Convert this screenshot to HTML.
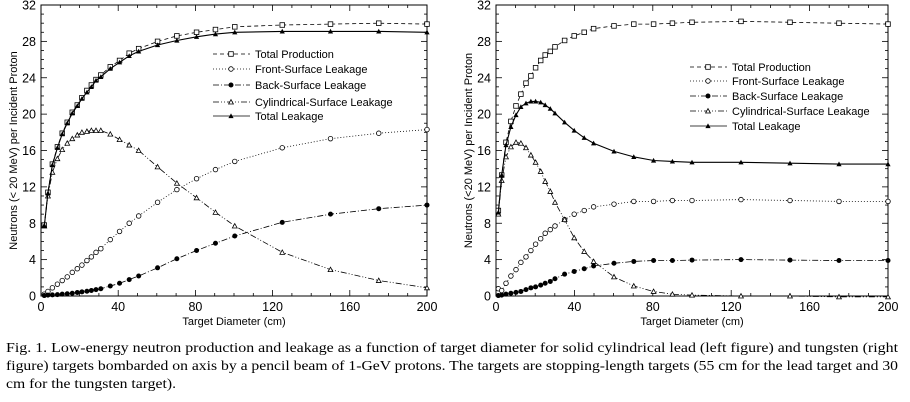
<!DOCTYPE html>
<html><head><meta charset="utf-8"><style>
html,body{margin:0;padding:0;background:#fff;}
svg{display:block;}
</style></head><body>
<svg id="s" width="910" height="402" xmlns="http://www.w3.org/2000/svg" font-family="Liberation Sans, sans-serif"></svg>
<script>
const S=document.getElementById('s');let h='';
const X=[1.7,3.6,5.9,8.5,11,13.6,16.2,18.8,21.2,23.8,26.1,28.5,31,35.9,40.7,45.7,50.6,60.4,70.4,80.6,90.4,100.4,125,150,175,200];
const L={
tp:[7.8,11.4,14.5,16.4,17.9,19.1,20.2,21,21.8,22.6,23.2,23.8,24.3,25.2,25.9,26.7,27.2,28,28.6,29,29.3,29.6,29.8,29.9,30,29.9],
tl:[7.7,11.3,14.4,16.3,17.8,19,20.1,20.9,21.7,22.4,23,23.7,24.1,25,25.7,26.4,26.9,27.6,28.1,28.5,28.8,29,29.1,29.1,29.1,29.0],
cy:[7.7,11,13.6,15.1,16.1,16.8,17.3,17.7,18,18.1,18.2,18.2,18.2,17.8,17.2,16.6,16,14.2,12.4,10.8,9.2,7.7,4.8,2.9,1.7,0.9],
fr:[0.2,0.5,0.9,1.3,1.7,2.1,2.6,3,3.4,3.9,4.3,4.8,5.2,6.2,7.1,8,8.8,10.3,11.7,12.9,13.9,14.8,16.3,17.3,17.9,18.3],
bk:[0.05,0.1,0.12,0.15,0.2,0.25,0.3,0.38,0.45,0.52,0.6,0.7,0.8,1.1,1.4,1.8,2.2,3.1,4.1,5,5.8,6.6,8.1,9,9.6,10]};
const XR=[1.2,2.9,5.1,7.6,10.2,12.7,15.3,17.8,20.2,22.8,25.1,27.7,30.1,35,39.9,45,49.8,60.2,70.3,80.4,90,100,125,150,175,200];
const R={
tp:[9.4,13.3,16.9,19.2,20.9,22.2,23.4,24.2,25.1,25.9,26.5,26.9,27.4,28.1,28.6,29,29.4,29.7,29.9,29.9,30,30.1,30.2,30.1,30,29.9],
tl:[9.2,13.3,16.6,18.6,19.9,20.8,21.2,21.4,21.4,21.3,21,20.6,20.1,19.1,18.2,17.4,16.8,15.9,15.3,14.9,14.8,14.7,14.7,14.6,14.5,14.5],
cy:[9,12.7,15.3,16.4,16.9,16.8,16.3,15.5,14.7,13.7,12.6,11.5,10.3,8.4,6.4,4.9,3.8,2.1,1.1,0.5,0.2,0.1,0,0,-0.1,-0.1],
fr:[0.8,0.6,1.4,2.2,2.9,3.7,4.3,5,5.7,6.3,6.9,7.3,7.7,8.4,9,9.4,9.8,10.1,10.4,10.4,10.5,10.5,10.6,10.5,10.4,10.4],
bk:[0.05,0.1,0.2,0.3,0.4,0.5,0.7,0.9,1.0,1.2,1.4,1.6,1.9,2.4,2.7,3.0,3.3,3.6,3.8,3.9,3.9,3.95,4,3.95,3.9,3.9]};
const ST={tp:'4,3',fr:'1,2',bk:'6,2,1,2',cy:'6,2,1,2,1,2',tl:''};
function mk(t,x,y){
 if(t=='tp')return `<rect x="${x-2.3}" y="${y-2.3}" width="4.6" height="4.6" fill="#fff" stroke="#000" stroke-width="0.8"/>`;
 if(t=='fr')return `<circle cx="${x}" cy="${y}" r="2.3" fill="#fff" stroke="#000" stroke-width="0.8"/>`;
 if(t=='bk')return `<circle cx="${x}" cy="${y}" r="2.5" fill="#000"/>`;
 if(t=='cy')return `<path d="M${x-2.4},${y+2} L${x+2.4},${y+2} L${x},${y-2.4}Z" fill="#fff" stroke="#000" stroke-width="0.8"/>`;
 return `<path d="M${x-2.6},${y+2.1} L${x+2.6},${y+2.1} L${x},${y-2.6}Z" fill="#000"/>`;
}
function plot(x0,x1,y0,y1,XS,D,ylab,lx,ly,tx){
 const sx=v=>x0+(x1-x0)*v/200, sy=v=>y0-(y0-y1)*v/32;
 h+=`<rect x="${x0}" y="${y1}" width="${x1-x0}" height="${y0-y1}" fill="none" stroke="#000" stroke-width="1"/>`;
 for(let v=0;v<=32;v++){const y=sy(v),l=v%4?3:6;h+=`<line x1="${x0}" x2="${x0+l}" y1="${y}" y2="${y}" stroke="#000" stroke-width="0.8"/><line x1="${x1}" x2="${x1-l}" y1="${y}" y2="${y}" stroke="#000" stroke-width="0.8"/>`;
  if(v%4==0)h+=`<text x="${x0-5}" y="${y+4.5}" font-size="12.5" text-anchor="end">${v}</text>`;}
 for(let v=0;v<=200;v+=10){const x=sx(v),l=v%40?3:6;h+=`<line x1="${x}" x2="${x}" y1="${y0}" y2="${y0-l}" stroke="#000" stroke-width="0.8"/><line x1="${x}" x2="${x}" y1="${y1}" y2="${y1+l}" stroke="#000" stroke-width="0.8"/>`;
  if(v%40==0)h+=`<text x="${x}" y="${y0+15}" font-size="12.5" text-anchor="middle">${v}</text>`;}
 h+=`<text x="${(x0+x1)/2}" y="${y0+29}" font-size="11" text-anchor="middle">Target Diameter (cm)</text>`;
 h+=`<text transform="translate(${x0-24},${(y0+y1)/2}) rotate(-90)" font-size="11" text-anchor="middle">${ylab}</text>`;
 for(const k of ['tp','fr','bk','cy','tl']){
  const p=XS.map((x,i)=>sx(x).toFixed(1)+','+sy(D[k][i]).toFixed(1)).join(' ');
  h+=`<polyline points="${p}" fill="none" stroke="#000" stroke-width="${k=='tl'?1.1:0.8}" stroke-dasharray="${ST[k]}"/>`;
  XS.forEach((x,i)=>h+=mk(k,sx(x),sy(D[k][i])));
 }
 const names={tp:'Total Production',fr:'Front-Surface Leakage',bk:'Back-Surface Leakage',cy:'Cylindrical-Surface Leakage',tl:'Total Leakage'};
 ['tp','fr','bk','cy','tl'].forEach((k,i)=>{const y=ly[i];
  h+=`<line x1="${lx}" x2="${lx+37}" y1="${y}" y2="${y}" stroke="#000" stroke-width="0.8" stroke-dasharray="${ST[k]}"/>`+mk(k,lx+18,y)+`<text x="${tx}" y="${y+4}" font-size="11">${names[k]}</text>`;});
}
plot(41,427,296,5,X,L,'Neutrons (&lt; 20 MeV) per Incident Proton',213,[54,69,85,102,116],255);
plot(496,888,296,5,XR,R,'Neutrons (&lt;20 MeV) per Incident Proton',690,[67,81,96,111,126],732);
const F='font-family="Liberation Serif, serif" font-size="14"';
h+=`<text x="6" y="352" ${F} textLength="892" lengthAdjust="spacingAndGlyphs">Fig. 1.  Low-energy neutron production and leakage as a function of target diameter for solid cylindrical lead (left figure) and tungsten (right</text>`;
h+=`<text x="6" y="370" ${F} textLength="892" lengthAdjust="spacingAndGlyphs">figure) targets bombarded on axis by a pencil beam of 1-GeV protons.  The targets are stopping-length targets (55 cm for the lead target and 30</text>`;
h+=`<text x="6" y="388" ${F} textLength="170" lengthAdjust="spacingAndGlyphs">cm for the tungsten target).</text>`;
S.innerHTML=h;
</script>
</body></html>
